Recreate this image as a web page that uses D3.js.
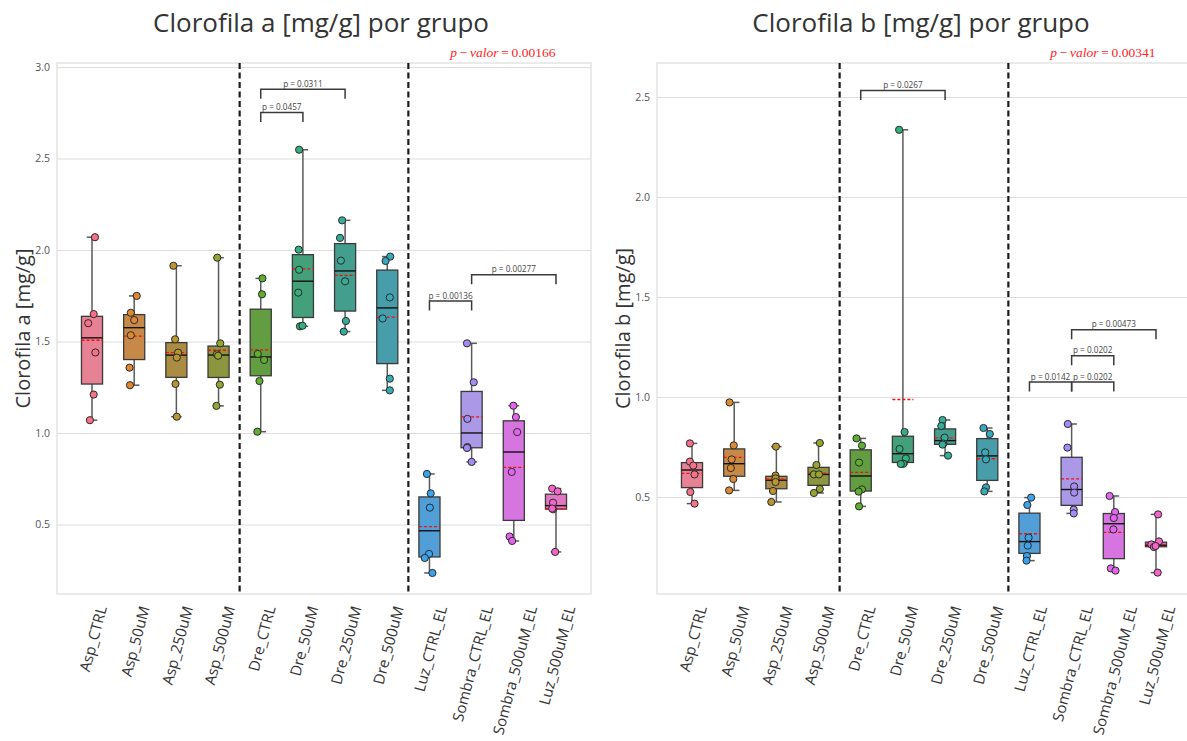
<!DOCTYPE html>
<html>
<head>
<meta charset="utf-8">
<script src="https://cdn.jsdelivr.net/npm/d3@7"></script>
<style>
  body { margin: 0; background: #fff; }
  svg { display: block; }
  text { font-family: "Open Sans", "Noto Sans", sans-serif; }
</style>
</head>
<body>
<svg id="chart" width="1187" height="741"></svg>
<script>
// ---- data -------------------------------------------------------------
const groups = ["Asp_CTRL", "Asp_50uM", "Asp_250uM", "Asp_500uM",
                "Dre_CTRL", "Dre_50uM", "Dre_250uM", "Dre_500uM",
                "Luz_CTRL_EL", "Sombra_CTRL_EL", "Sombra_500uM_EL", "Luz_500uM_EL"];

// chlorophyll a, mg/g (six replicates per group)
const chlA = [
  [2.070, 1.650, 1.600, 1.440, 1.210, 1.070],
  [1.749, 1.657, 1.617, 1.534, 1.357, 1.261],
  [1.914, 1.512, 1.439, 1.412, 1.268, 1.089],
  [1.958, 1.490, 1.430, 1.422, 1.264, 1.148],
  [1.845, 1.758, 1.432, 1.399, 1.284, 1.007],
  [2.548, 2.002, 1.892, 1.767, 1.583, 1.586],
  [2.162, 2.066, 1.942, 1.829, 1.612, 1.554],
  [1.964, 1.940, 1.741, 1.626, 1.297, 1.233],
  [0.776, 0.670, 0.592, 0.339, 0.317, 0.235],
  [1.490, 1.277, 1.077, 0.923, 0.918, 0.842],
  [1.149, 1.087, 1.005, 0.787, 0.434, 0.410],
  [0.696, 0.681, 0.619, 0.583, 0.587, 0.350]
];

// chlorophyll b, mg/g
const chlB = [
  [0.768, 0.677, 0.657, 0.613, 0.525, 0.467],
  [0.973, 0.758, 0.688, 0.645, 0.590, 0.533],
  [0.752, 0.607, 0.593, 0.575, 0.530, 0.475],
  [0.770, 0.660, 0.613, 0.613, 0.540, 0.520],
  [0.793, 0.757, 0.672, 0.538, 0.527, 0.453],
  [2.336, 0.825, 0.740, 0.693, 0.666, 0.665],
  [0.885, 0.855, 0.797, 0.767, 0.762, 0.707],
  [0.845, 0.815, 0.723, 0.688, 0.548, 0.528],
  [0.497, 0.460, 0.297, 0.257, 0.205, 0.182],
  [0.865, 0.747, 0.553, 0.522, 0.437, 0.418],
  [0.505, 0.425, 0.395, 0.338, 0.143, 0.132],
  [0.413, 0.278, 0.263, 0.250, 0.255, 0.122]
];

// pairwise comparisons: [group i, group j], p label, bracket level (mg/g)
const pairsA  = [[4, 5], [4, 6], [8, 9], [9, 11]];
const pTextA  = ["0.0457", "0.0311", "0.00136", "0.00277"];
const levelsA = [2.752, 2.878, 1.721, 1.865];

const pairsB  = [[4, 6], [8, 9], [9, 10], [9, 10], [9, 11]];
const pTextB  = ["0.0267", "0.0142", "0.0202", "0.0202", "0.00473"];
const levelsB = [2.533, 1.075, 1.075, 1.2065, 1.3365];

// overall test p-values
const anovaP = ["0.00166", "0.00341"];

const yTicksA = [0.5, 1.0, 1.5, 2.0, 2.5, 3.0];
const yTicksB = [0.5, 1.0, 1.5, 2.0, 2.5];

// ---- styling / layout --------------------------------------------------
// horizontal strip-plot jitter of each dot, as a fraction of the category step
const jitterA = [
  [0.07, 0.04, -0.09, 0.08, 0.04, -0.05],
  [0.06, -0.08, 0.00, -0.08, -0.11, -0.10],
  [-0.07, -0.03, 0.04, 0.01, -0.02, 0.01],
  [-0.03, 0.04, -0.04, -0.01, 0.03, -0.05],
  [0.04, 0.03, -0.07, 0.08, -0.03, -0.08],
  [-0.09, -0.10, -0.09, -0.11, -0.07, -0.01],
  [-0.07, -0.12, -0.10, 0.00, 0.02, -0.03],
  [0.07, -0.04, 0.06, -0.11, 0.06, 0.06],
  [-0.06, 0.03, 0.01, -0.01, -0.11, 0.07],
  [-0.11, 0.05, -0.10, -0.10, -0.11, 0.00],
  [-0.01, 0.05, 0.08, -0.05, -0.10, -0.04],
  [-0.09, 0.04, -0.07, -0.07, -0.09, -0.02]
];
const jitterB = [
  [-0.05, -0.05, 0.03, 0.06, -0.04, 0.06],
  [-0.11, -0.01, -0.06, -0.08, -0.02, -0.12],
  [-0.01, -0.02, -0.02, -0.02, -0.08, -0.12],
  [0.03, -0.05, -0.11, 0.01, 0.03, -0.11],
  [-0.10, 0.03, -0.04, 0.03, -0.05, -0.04],
  [-0.09, 0.04, -0.08, 0.07, 0.01, -0.05],
  [-0.06, -0.09, -0.01, -0.04, -0.06, 0.07],
  [-0.09, 0.06, -0.05, -0.03, -0.03, -0.07],
  [0.04, -0.05, -0.02, -0.04, -0.06, -0.07],
  [-0.09, -0.10, 0.06, 0.06, 0.05, 0.05],
  [-0.10, 0.03, 0.00, -0.01, -0.07, 0.04],
  [0.05, 0.07, -0.11, -0.05, -0.01, 0.04]
];

const palette = ["#f77189", "#dc8932", "#bb9532", "#97a431", "#5dae31", "#33b07d",
                 "#35ad98", "#37aab9", "#3ba3ec", "#a48cf4", "#e464f0", "#f565c9"];
// box fill: palette colour with saturation reduced to 75 %
const boxFill = palette.map(c => { const h = d3.hsl(c); h.s *= 0.75; return h.formatHex(); });

const TOP = 63, BOTTOM = 594;
const panels = [
  { values: chlA, jitter: jitterA, ticks: yTicksA, domain: [0.120, 3.022],
    left: 57, right: 591, title: "Clorofila a [mg/g] por grupo", ylabel: "Clorofila a [mg/g]",
    pairs: pairsA, pText: pTextA, levels: levelsA, anova: anovaP[0] },
  { values: chlB, jitter: jitterB, ticks: yTicksB, domain: [0.015, 2.670],
    left: 657, right: 1191, title: "Clorofila b [mg/g] por grupo", ylabel: "Clorofila b [mg/g]",
    pairs: pairsB, pText: pTextB, levels: levelsB, anova: anovaP[1] }
];

const svg = d3.select("#chart");

panels.forEach(P => {
  const g = svg.append("g");
  const x = d3.scalePoint().domain(groups).range([P.left, P.right]).padding(0.83);
  const y = d3.scaleLinear().domain(P.domain).range([BOTTOM, TOP]);
  const step = x.step();
  const W = P.right - P.left;

  // horizontal grid
  const grid = g.append("g").attr("transform", `translate(${P.left},0)`)
    .call(d3.axisLeft(y).tickValues(P.ticks).tickSize(-W).tickFormat(""));
  grid.select(".domain").remove();
  grid.selectAll("line").attr("stroke", "#dedede").attr("stroke-width", 1.1);

  // frame
  g.append("rect").attr("x", P.left).attr("y", TOP).attr("width", W).attr("height", BOTTOM - TOP)
    .attr("fill", "none").attr("stroke", "#d9d9d9").attr("stroke-width", 1.1);

  // y tick labels
  const yAx = g.append("g").attr("transform", `translate(${P.left},0)`)
    .call(d3.axisLeft(y).tickValues(P.ticks).tickSize(0).tickPadding(7).tickFormat(d3.format(".1f")));
  yAx.select(".domain").remove();
  yAx.selectAll("text").attr("font-size", 10.5).attr("fill", "#555")
    .style("font-family", "'Open Sans', sans-serif");

  // dashed separators between treatment families
  [[3, 4], [7, 8]].forEach(([a, b]) => {
    const xs = (x(groups[a]) + x(groups[b])) / 2;
    g.append("line").attr("x1", xs).attr("x2", xs).attr("y1", TOP).attr("y2", BOTTOM)
      .attr("stroke", "#1a1a1a").attr("stroke-width", 2.2).attr("stroke-dasharray", "6,3.5");
  });

  // boxes
  const bw = step * 0.5, cw = step * 0.25;
  P.values.forEach((vals, i) => {
    const s = vals.slice().sort(d3.ascending);
    const q1 = d3.quantile(s, 0.25), med = d3.quantile(s, 0.5), q3 = d3.quantile(s, 0.75);
    const mn = s[0], mx = s[s.length - 1], mean = d3.mean(s);
    const cx = x(groups[i]);
    const bg = g.append("g");
    // whiskers + caps
    [[q3, mx], [q1, mn]].forEach(([a, b]) => {
      bg.append("line").attr("x1", cx).attr("x2", cx).attr("y1", y(a)).attr("y2", y(b))
        .attr("stroke", "#5a5a5a").attr("stroke-width", 1.5);
      bg.append("line").attr("x1", cx - cw / 2).attr("x2", cx + cw / 2).attr("y1", y(b)).attr("y2", y(b))
        .attr("stroke", "#5a5a5a").attr("stroke-width", 1.5);
    });
    bg.append("rect").attr("x", cx - bw / 2).attr("y", y(q3)).attr("width", bw)
      .attr("height", Math.max(0.5, y(q1) - y(q3)))
      .attr("fill", boxFill[i]).attr("stroke", "#3a3a3a").attr("stroke-width", 1.3);
    bg.append("line").attr("x1", cx - bw / 2).attr("x2", cx + bw / 2).attr("y1", y(med)).attr("y2", y(med))
      .attr("stroke", "#111").attr("stroke-width", 1.4);
    bg.append("line").attr("x1", cx - bw / 2).attr("x2", cx + bw / 2).attr("y1", y(mean)).attr("y2", y(mean))
      .attr("stroke", "#f01010").attr("stroke-width", 1.3).attr("stroke-dasharray", "3,2");
  });

  // individual measurements
  P.values.forEach((vals, i) => {
    g.append("g").selectAll("circle").data(vals).join("circle")
      .attr("cx", (d, k) => x(groups[i]) + P.jitter[i][k] * step)
      .attr("cy", d => y(d))
      .attr("r", 3.6)
      .attr("fill", palette[i]).attr("stroke", "#2a2a2a").attr("stroke-width", 1);
  });

  // significance brackets
  const tickLen = 9.5;
  P.pairs.forEach(([a, b], k) => {
    const x1 = x(groups[a]), x2 = x(groups[b]), yy = y(P.levels[k]);
    g.append("path")
      .attr("d", `M${x1},${yy + tickLen}V${yy}H${x2}V${yy + tickLen}`)
      .attr("fill", "none").attr("stroke", "#3a3a3a").attr("stroke-width", 1.5);
    g.append("text").attr("x", (x1 + x2) / 2).attr("y", yy - 2.5)
      .attr("text-anchor", "middle").attr("font-size", 8.2).attr("fill", "#444")
      .text("p = " + P.pText[k]);
  });

  // overall p-value
  const at = g.append("text").attr("x", P.left + 0.835 * W).attr("y", 57)
    .attr("text-anchor", "middle").attr("fill", "#ff2222").attr("font-size", 13.5)
    .style("font-family", "'Liberation Serif', 'DejaVu Serif', serif");
  at.append("tspan").attr("font-style", "italic").text("p");
  at.append("tspan").text("\u2009\u2212\u2009");
  at.append("tspan").attr("font-style", "italic").text("valor");
  at.append("tspan").text("\u2009=\u2009" + P.anova);

  // title
  g.append("text").attr("x", (P.left + P.right) / 2 - 3).attr("y", 32)
    .attr("text-anchor", "middle").attr("font-size", 26).attr("fill", "#333")
    .text(P.title);

  // y label
  g.append("text").attr("transform", `translate(${P.left - 35},${(TOP + BOTTOM) / 2}) rotate(-90)`)
    .attr("text-anchor", "middle").attr("dominant-baseline", "central")
    .attr("font-size", 20).attr("fill", "#333").text(P.ylabel);

  // category labels, rotated 75 degrees
  const xAx = g.append("g").attr("transform", `translate(0,${BOTTOM})`)
    .call(d3.axisBottom(x).tickSize(0));
  xAx.select(".domain").remove();
  const fs = 15, rad = 75 * Math.PI / 180;
  xAx.selectAll("text")
    .attr("font-size", fs).attr("fill", "#333")
    .style("font-family", "'Open Sans', sans-serif")
    .attr("x", 0).attr("y", 0).attr("dy", null)
    .attr("text-anchor", "middle").attr("dominant-baseline", "central")
    .attr("transform", function () {
      const L = this.getComputedTextLength();
      const off = 10 + (L * Math.sin(rad) + fs * 1.1 * Math.cos(rad)) / 2;
      return `translate(0,${off}) rotate(-75)`;
    });
});
</script>
</body>
</html>
